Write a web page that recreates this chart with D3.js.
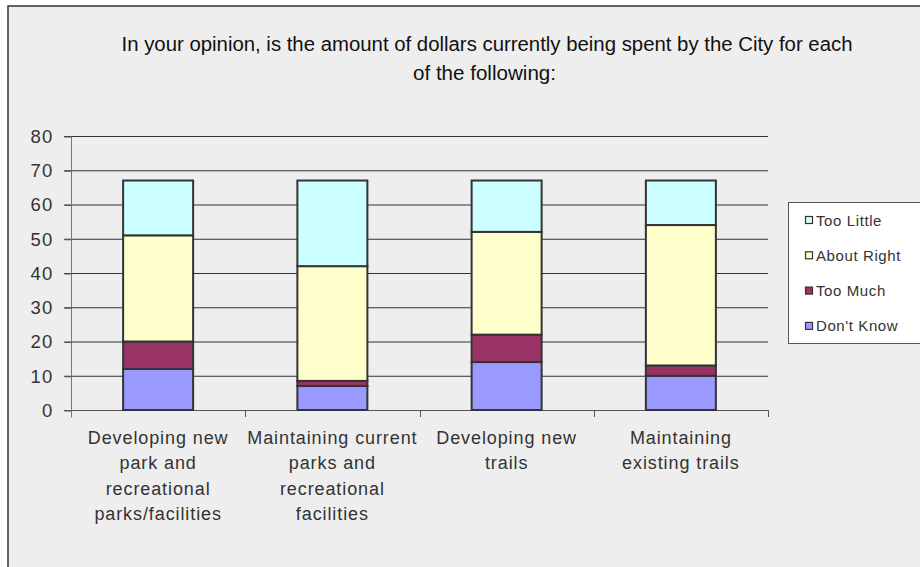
<!DOCTYPE html>
<html>
<head>
<meta charset="utf-8">
<script src="https://cdn.jsdelivr.net/npm/d3@7"></script>
<style>
body {margin:0;background:#fff;}
text {font-family:Arial, "Liberation Sans", sans-serif;fill:#333;}
.title {font-family:"Liberation Sans Narrow", "Arial Narrow", Arial, sans-serif;font-size:20px;fill:#111;}
</style>
</head>
<body>
<svg id="chart" width="920" height="567"></svg>
<script>
// categories and stacked series (bottom to top)
var categories = [
  ["Developing new", "park and", "recreational", "parks/facilities"],
  ["Maintaining current", "parks and", "recreational", "facilities"],
  ["Developing new", "trails"],
  ["Maintaining", "existing trails"]
]
var seriesNames = ["Don't Know", "Too Much", "About Right", "Too Little"]
var dontKnow   = [12, 7, 14, 10]
var tooMuch    = [8, 1.5, 8, 3]
var aboutRight = [31, 33.5, 30, 41]
var tooLittle  = [16, 25, 15, 13]
var colors = ["#9999FF", "#993366", "#FFFFCC", "#CCFFFF"]
var yTicks = [0, 10, 20, 30, 40, 50, 60, 70, 80]

var svg = d3.select("#chart")

// chart frame
svg.append("rect").attr("x", 8).attr("y", 6).attr("width", 930).attr("height", 580)
  .style("fill", "#eeeeee").style("stroke", "#333").style("stroke-width", 1.5)

// title
svg.append("text").attr("class", "title").attr("x", 487).attr("y", 51).attr("text-anchor", "middle")
  .attr("textLength", 731).attr("lengthAdjust", "spacingAndGlyphs")
  .text("In your opinion, is the amount of dollars currently being spent by the City for each")
svg.append("text").attr("class", "title").attr("x", 484.5).attr("y", 80).attr("text-anchor", "middle")
  .attr("textLength", 143).attr("lengthAdjust", "spacingAndGlyphs")
  .text("of the following:")

var x = d3.scaleBand().domain(d3.range(categories.length)).range([71, 768]).paddingInner(0).paddingOuter(0)
var y = d3.scaleLinear().domain([0, 80]).range([410, 136])

// gridlines
svg.append("g").selectAll("line").data(yTicks).enter().append("line")
  .attr("x1", 64).attr("x2", 768)
  .attr("y1", function(d) { return y(d) + 0.5 }).attr("y2", function(d) { return y(d) + 0.5 })
  .style("stroke", function(d) { return d === 0 ? "#555" : "#333" }).style("stroke-width", 1)

// y axis
var yAxis = svg.append("g").attr("transform", "translate(71.5,0.5)")
  .call(d3.axisLeft(y).tickValues(yTicks).tickSize(7).tickPadding(11))
yAxis.select(".domain").attr("d", "M0," + (y(80)) + "V" + (y(0) + 7)).style("stroke", "#777")
yAxis.selectAll(".tick line").style("stroke", "#555")
yAxis.selectAll("text").style("font-size", "18.5px").style("letter-spacing", "1.2px")
  .style("font-family", "Arial, 'Liberation Sans', sans-serif").style("fill", "#333")

// category ticks
svg.append("g").selectAll("line").data(d3.range(1, categories.length + 1)).enter().append("line")
  .attr("x1", function(d) { return Math.round(71 + x.step() * d) + 0.5 })
  .attr("x2", function(d) { return Math.round(71 + x.step() * d) + 0.5 })
  .attr("y1", 410).attr("y2", 417).style("stroke", "#555")

// stacks
var rows = categories.map(function(c, i) {
  return {i: i, "Don't Know": dontKnow[i], "Too Much": tooMuch[i], "About Right": aboutRight[i], "Too Little": tooLittle[i]}
})
var stacked = d3.stack().keys(seriesNames)(rows)
var barW = 70
svg.append("g").selectAll("g").data(stacked).enter().append("g")
  .style("fill", function(d, k) { return colors[k] })
  .selectAll("rect").data(function(d) { return d }).enter().append("rect")
    .attr("x", function(d) { return x(d.data.i) + x.bandwidth() / 2 - barW / 2 })
    .attr("y", function(d) { return y(d[1]) })
    .attr("width", barW)
    .attr("height", function(d) { return y(d[0]) - y(d[1]) })
    .style("stroke", "#333").style("stroke-width", 2)

// category labels
svg.append("g").selectAll("text").data(categories).enter().append("text")
  .attr("text-anchor", "middle").style("font-size", "18px").style("letter-spacing", "0.9px")
  .attr("x", function(d, i) { return x(i) + x.bandwidth() / 2 })
  .attr("y", 444)
  .each(function(lines) {
    var t = d3.select(this), cx = t.attr("x")
    lines.forEach(function(l, j) {
      t.append("tspan").attr("x", cx).attr("dy", j === 0 ? 0 : 25.3).text(l)
    })
  })

// legend
var legend = svg.append("g")
legend.append("rect").attr("x", 788.5).attr("y", 202.5).attr("width", 140).attr("height", 141)
  .style("fill", "#fff").style("stroke", "#555").style("stroke-width", 1)
var legendItems = seriesNames.slice().reverse()
legendItems.forEach(function(name, k) {
  var ly = 220 + k * 35.3
  legend.append("rect").attr("x", 805.5).attr("y", ly - 3.5).attr("width", 7).attr("height", 7)
    .style("fill", colors[seriesNames.indexOf(name)]).style("stroke", "#333").style("stroke-width", 1.2)
  legend.append("text").attr("x", 816).attr("y", ly + 5.5).style("font-size", "15px")
    .style("letter-spacing", "0.6px").text(name)
})
</script>
</body>
</html>
